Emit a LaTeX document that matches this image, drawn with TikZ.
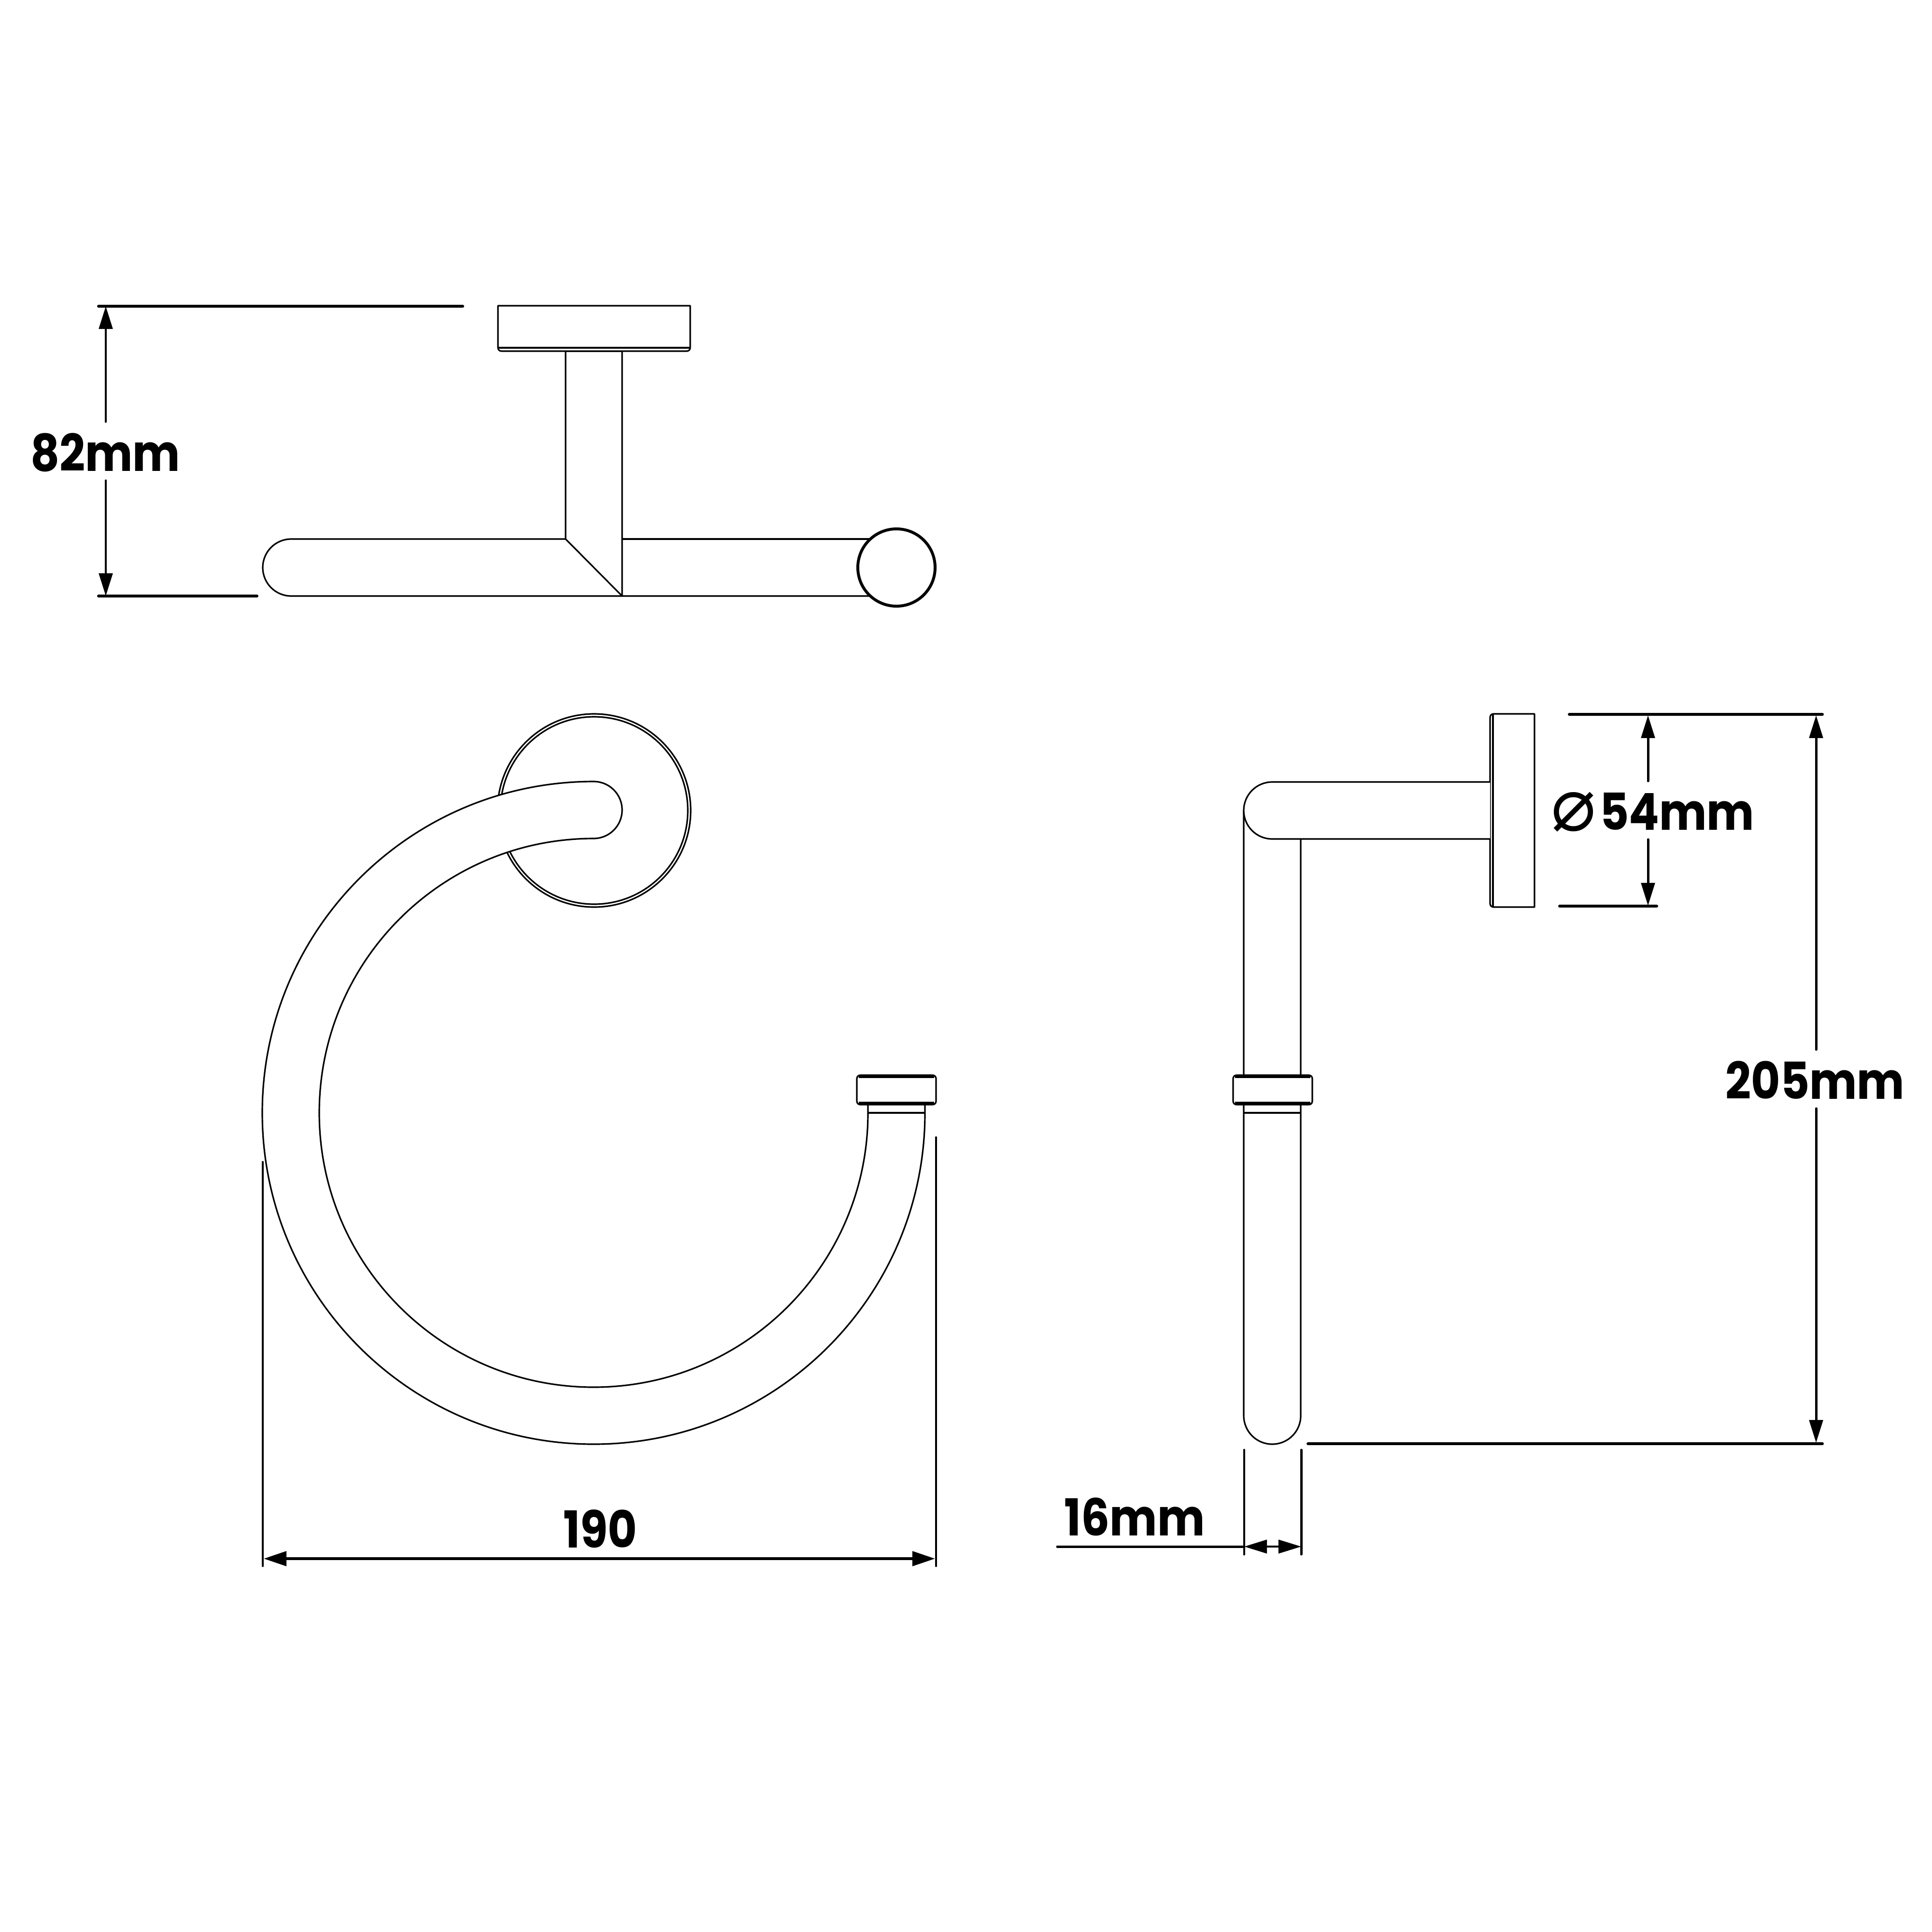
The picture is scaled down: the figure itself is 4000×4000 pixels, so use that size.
\documentclass[tikz,border=0pt]{standalone}
\usepackage{fontspec}
\usepackage{tikz}
\usetikzlibrary{arrows.meta}
\setmainfont{Poppins}[FakeStretch=0.88]
\newfontfamily\symbolfont{DejaVu Sans}

\begin{document}
\begin{tikzpicture}[x=0.01cm, y=-0.01cm,
        every node/.style={font=\fontsize{30}{30}\selectfont\bfseries, inner sep=0pt, anchor=base},
        part/.style={line width=0.9pt, fill=white, line join=round},
        edge/.style={line width=1.9pt},
        rim/.style={line width=1.7pt, line cap=round},
        dim/.style={line width=1.4pt, line cap=round},
        tip/.style={line width=1.7pt, {Triangle[length=13.4pt, width=8.5pt]}-{Triangle[length=13.4pt, width=8.5pt]}},
        uptip/.style={line width=1.4pt, line cap=round, {Triangle[length=13.4pt, width=8pt]}-},
        downtip/.style={line width=1.4pt, line cap=round, -{Triangle[length=13.4pt, width=8pt]}}]
        \useasboundingbox (0,0) rectangle (4000,4000);

        \draw[part] (1171,1116) -- (603,1116) arc (270:90:59) -- (1801,1234);
        \draw[part] (1288,1116) -- (1801,1116);
        \draw[part] (1171,727) -- (1171,1116) -- (1288,1234) -- (1288,727) -- cycle;
        \draw[part] (1429,633) -- (1031,633) [rounded corners=2pt] -- (1031,727) -- (1429,727) [sharp corners] -- cycle;
        \draw[part] (1031,720) -- (1429,720);
        \draw[rim, fill=white] (1856,1175) circle (80);

        \draw[part] (1230,1678) circle (200);
        \draw[part] (1230,1678) circle (194);
        \draw[part] (1915,2285) -- (1915,2304) arc (0:270:686) arc (270:450:59) arc (270:0:568) -- (1797,2285);
        \draw[part] (1797,2304) -- (1915,2304);
        \draw[part, rounded corners=2pt] (1774,2226) rectangle (1938,2287);
        \draw[edge] (1778,2229) -- (1934,2229);
        \draw[edge] (1778,2284) -- (1934,2284);

        \draw[part] (3177,1878) [rounded corners=2pt] -- (3085,1878) -- (3085,1478) [sharp corners] -- (3177,1478) -- cycle;
        \draw[part] (3091,1478) -- (3091,1878);
        \draw[part] (2693,1737) -- (2693,2931) arc (0:180:59) -- (2575,1678);
        \draw[part] (3085,1737) -- (2634,1737) arc (90:270:59) -- (3085,1619);
        \draw[part] (2575,2304) -- (2693,2304);
        \draw[part, rounded corners=2pt] (2553,2226) rectangle (2717,2287);
        \draw[edge] (2557,2229) -- (2713,2229);
        \draw[edge] (2557,2284) -- (2713,2284);

        \coordinate (topa) at (219,634);
        \coordinate (topb) at (219,873);
        \coordinate (bota) at (219,995);
        \coordinate (botb) at (219,1234);
        \draw[rim] (204,634) -- (958,634);
        \draw[rim] (204,1234) -- (532,1234);
        \draw[uptip] (topa) -- (topb);
        \draw[downtip] (bota) -- (botb);
        \node (depth) at (218,975) {82mm};

        \coordinate (widtha) at (546,3227);
        \coordinate (widthb) at (1936,3227);
        \draw[dim] (544,2406) -- (544,3242);
        \draw[dim] (1938,2355) -- (1938,3242);
        \draw[tip] (widtha) -- (widthb);
        \node (width) at (1243,3204) {190};

        \coordinate (plateup) at (3412,1481);
        \coordinate (platea) at (3412,1617);
        \coordinate (plateb) at (3412,1738);
        \coordinate (platedown) at (3412,1875);
        \draw[rim] (3249,1479) -- (3773,1479);
        \draw[rim] (3229,1876) -- (3430,1876);
        \draw[uptip] (plateup) -- (platea);
        \draw[downtip] (plateb) -- (platedown);
        \node[font=\symbolfont\fontsize{44}{44}\selectfont] (dia) at (3258,1719) {⌀};
        \node (plate) at (3472,1718) {54mm};

        \coordinate (higha) at (3760,1481);
        \coordinate (highb) at (3760,2173);
        \coordinate (lowa) at (3760,2295);
        \coordinate (lowb) at (3760,2987);
        \draw[rim] (2708,2989) -- (3773,2989);
        \draw[uptip] (higha) -- (highb);
        \draw[downtip] (lowa) -- (lowb);
        \node (height) at (3758,2275) {205mm};

        \coordinate (tubea) at (2576,3202);
        \coordinate (tubeb) at (2694,3202);
        \draw[dim] (2576,3002) -- (2576,3218);
        \draw[dim] (2694,3002) -- (2694,3218);
        \draw[dim] (2189,3202) -- (tubea);
        \draw[line width=1pt, {Triangle[length=13.4pt, width=8pt]}-{Triangle[length=13.4pt, width=8pt]}] (tubea) -- (tubeb);
        \node (tube) at (2349,3179) {16mm};
    \end{tikzpicture}
\end{document}
